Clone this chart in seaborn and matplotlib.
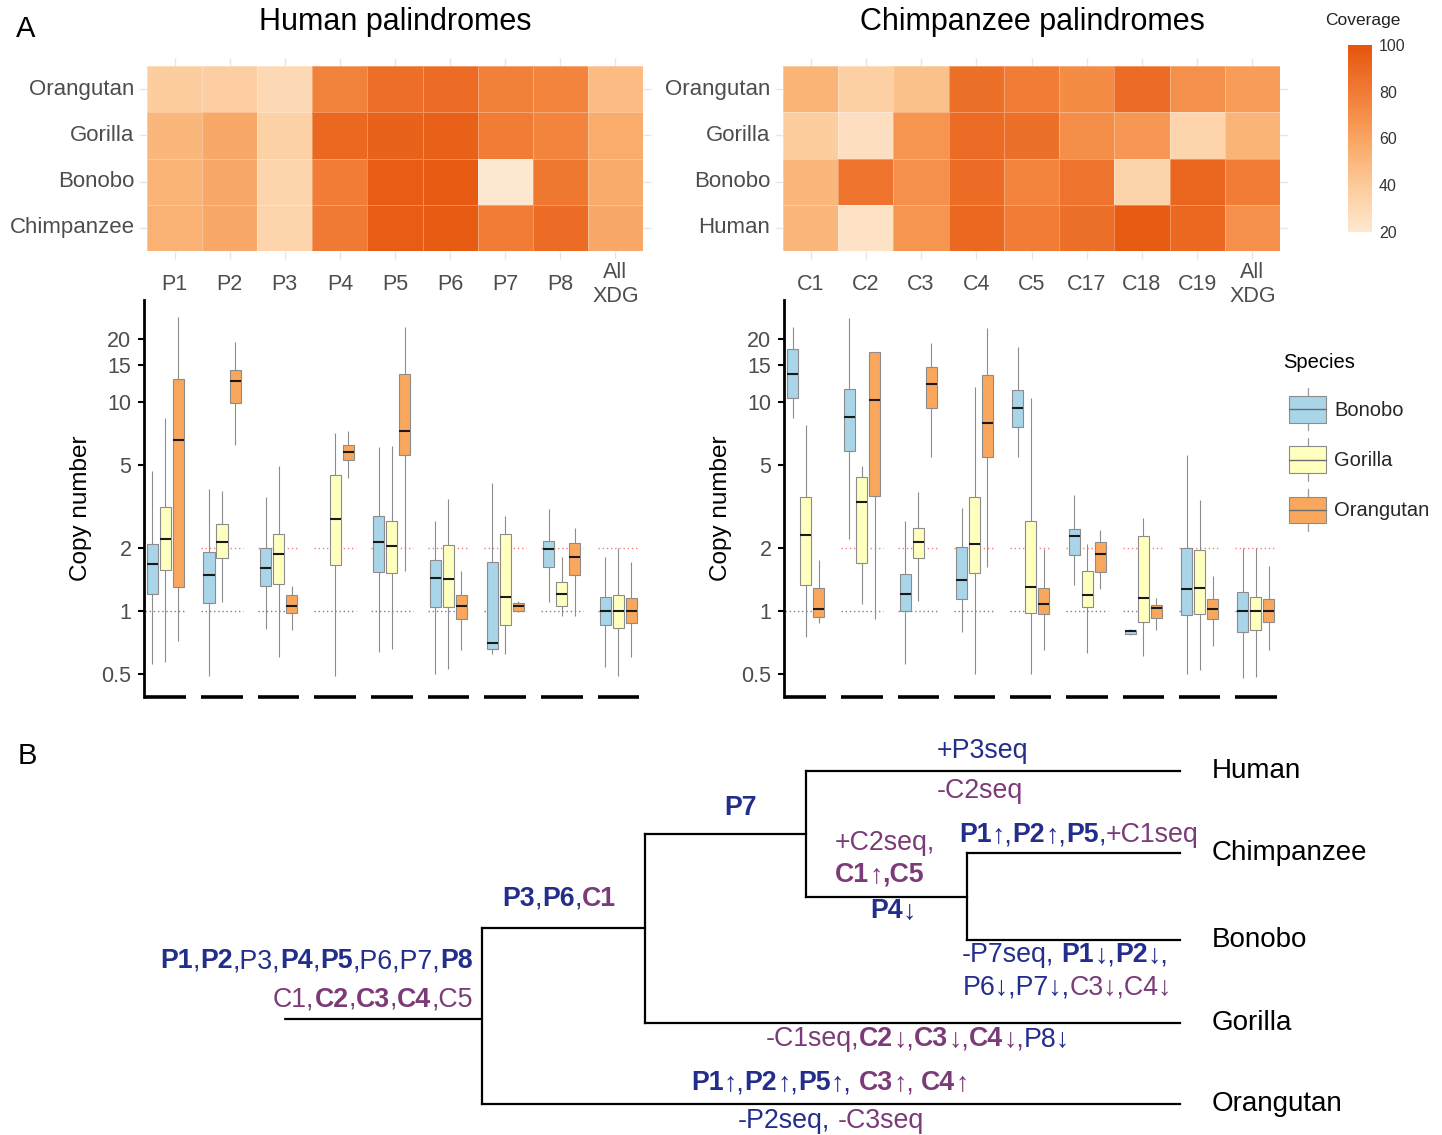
import numpy as np
import pandas as pd
import matplotlib
matplotlib.use("Agg")
import matplotlib.pyplot as plt
import seaborn as sns
from matplotlib.colors import LinearSegmentedColormap
from matplotlib.offsetbox import TextArea, HPacker, AnnotationBbox, DrawingArea
from matplotlib.legend_handler import HandlerBase
from matplotlib.patches import Rectangle, Patch
from matplotlib.lines import Line2D

sns.set_theme(style="white")
FAM = ["Liberation Sans", "DejaVu Sans"]
NARROW = ["Liberation Sans Narrow", "Liberation Sans", "DejaVu Sans"]
plt.rcParams["font.family"] = FAM

# ---------------- data ----------------
human_pal = ["P1", "P2", "P3", "P4", "P5", "P6", "P7", "P8", "All\nXDG"]
chimp_pal = ["C1", "C2", "C3", "C4", "C5", "C17", "C18", "C19", "All\nXDG"]
human_hm_rows = ["Orangutan", "Gorilla", "Bonobo", "Chimpanzee"]
chimp_hm_rows = ["Orangutan", "Gorilla", "Bonobo", "Human"]

# coverage (%) of human palindromes
hcov_orangutan = [38, 37, 30, 77, 87, 88, 78, 76, 48]
hcov_gorilla = [50, 58, 35, 90, 93, 94, 80, 76, 56]
hcov_bonobo = [52, 58, 33, 80, 96, 97, 20, 82, 57]
hcov_chimpanzee = [53, 58, 33, 81, 96, 97, 80, 88, 58]
# coverage (%) of chimpanzee palindromes
ccov_orangutan = [52, 36, 45, 86, 80, 72, 88, 70, 64]
ccov_gorilla = [38, 26, 68, 88, 86, 71, 66, 33, 52]
ccov_bonobo = [50, 84, 70, 88, 76, 84, 34, 91, 80]
ccov_human = [50, 24, 68, 90, 80, 86, 97, 90, 70]

box_species = ["Bonobo", "Gorilla", "Orangutan"]
box_colors = ["#A8D5E7", "#FFFFBE", "#F9A75C"]

# five-number summaries: [low whisker, Q1, median, Q3, high whisker]
human_box_bonobo = [
    [0.56, 1.21, 1.67, 2.10, 4.68], [0.49, 1.09, 1.48, 1.91, 3.82],
    [0.82, 1.31, 1.61, 1.99, 3.52], None,
    [0.64, 1.54, 2.14, 2.85, 6.05], [0.50, 1.04, 1.44, 1.75, 2.70],
    [0.62, 0.66, 0.70, 1.72, 4.07], [1.10, 1.63, 1.98, 2.17, 3.08],
    [0.54, 0.86, 1.00, 1.16, 1.82]]
human_box_gorilla = [
    [0.57, 1.57, 2.20, 3.15, 8.40], [1.10, 1.80, 2.14, 2.60, 3.73],
    [0.60, 1.34, 1.87, 2.33, 4.95], [0.49, 1.65, 2.76, 4.48, 7.06],
    [0.66, 1.51, 2.04, 2.68, 6.17], [0.53, 1.04, 1.42, 2.07, 3.44],
    [0.62, 0.86, 1.17, 2.32, 2.84], [0.95, 1.06, 1.20, 1.38, 1.82],
    [0.49, 0.83, 1.00, 1.19, 2.00]]
human_box_orangutan = [
    [0.72, 1.30, 6.59, 12.8, 25.3], [6.20, 9.80, 12.5, 14.1, 19.2],
    [0.81, 0.98, 1.06, 1.19, 1.32], [4.30, 5.28, 5.73, 6.19, 7.27],
    [1.55, 5.56, 7.27, 13.6, 22.8], [0.65, 0.92, 1.06, 1.19, 1.56],
    [0.99, 1.00, 1.06, 1.09, 1.12], [0.95, 1.49, 1.81, 2.12, 2.48],
    [0.60, 0.88, 1.00, 1.15, 1.71]]
chimp_box_bonobo = [
    [8.40, 10.4, 13.5, 17.8, 22.8], [2.20, 5.81, 8.45, 11.5, 25.0],
    [0.56, 1.00, 1.20, 1.50, 2.70], [0.79, 1.14, 1.41, 2.02, 3.10],
    [5.42, 7.60, 9.37, 11.4, 18.2], [1.33, 1.85, 2.27, 2.46, 3.60],
    [0.77, 0.78, 0.80, 0.81, 0.82], [0.50, 0.96, 1.28, 1.99, 5.56],
    [0.48, 0.79, 1.00, 1.23, 2.00]]
chimp_box_gorilla = [
    [0.75, 1.33, 2.31, 3.49, 7.74], [1.08, 1.69, 3.31, 4.38, 4.93],
    [1.11, 1.80, 2.14, 2.49, 3.72], [0.50, 1.51, 2.08, 3.49, 11.8],
    [0.50, 0.98, 1.30, 2.68, 10.4], [0.63, 1.05, 1.19, 1.55, 2.10],
    [0.61, 0.89, 1.15, 2.27, 2.77], [0.52, 0.97, 1.29, 1.95, 3.39],
    [0.485, 0.81, 1.00, 1.17, 2.00]]
chimp_box_orangutan = [
    [0.88, 0.94, 1.02, 1.29, 1.75], [0.92, 3.56, 10.2, 17.2, 17.2],
    [5.42, 9.30, 12.1, 14.6, 19.0], [1.62, 5.46, 7.94, 13.4, 22.4],
    [0.65, 0.97, 1.08, 1.29, 1.98], [1.27, 1.54, 1.88, 2.14, 2.44],
    [0.81, 0.93, 1.03, 1.07, 1.15], [0.68, 0.92, 1.02, 1.14, 1.47],
    [0.65, 0.89, 1.00, 1.14, 1.64]]

ref_levels = [1, 2]
y_ticks = [0.5, 1, 2, 5, 10, 15, 20]
cov_ticks = [20, 30, 40, 50, 60, 70, 80, 90, 100]

tree_leaves = ["Human", "Chimpanzee", "Bonobo", "Gorilla", "Orangutan"]

# ---------------- figure ----------------
W, H = 1442, 1135
fig = plt.figure(figsize=(W / 100, H / 100), dpi=100)
fig.patch.set_facecolor("white")


def ax_px(x0, y0, x1, y1):
    return fig.add_axes([x0 / W, 1 - y1 / H, (x1 - x0) / W, (y1 - y0) / H])


cmap = LinearSegmentedColormap.from_list(
    "cov", [(0.0, "#FEE7D1"), (0.25, "#FCCA98"), (0.5, "#F9A561"),
            (0.75, "#F07C35"), (1.0, "#E6550D")])
TICKC = "#4D4D4D"

# boxplot axes first (transparent), so heatmap labels stay on top
axb1 = ax_px(144, 300, 640, 697)
axb2 = ax_px(784, 300, 1277, 697)

# heatmaps
axh1 = ax_px(147, 66, 643, 251)
axh2 = ax_px(783, 66, 1280, 251)
cax = ax_px(1348, 45, 1372, 232)

hdf = pd.DataFrame([hcov_orangutan, hcov_gorilla, hcov_bonobo, hcov_chimpanzee],
                   index=human_hm_rows, columns=human_pal)
cdf = pd.DataFrame([ccov_orangutan, ccov_gorilla, ccov_bonobo, ccov_human],
                   index=chimp_hm_rows, columns=chimp_pal)
sns.heatmap(hdf, ax=axh1, cmap=cmap, vmin=20, vmax=100, cbar_ax=cax,
            linewidths=0.6, linecolor=(1, 1, 1, 0.3))
sns.heatmap(cdf, ax=axh2, cmap=cmap, vmin=20, vmax=100, cbar=False,
            linewidths=0.6, linecolor=(1, 1, 1, 0.3))

for ax, cols, rows in [(axh1, human_pal, human_hm_rows), (axh2, chimp_pal, chimp_hm_rows)]:
    ax.set_xlabel("")
    ax.set_ylabel("")
    ax.set_xticklabels(cols, rotation=0, fontsize=15.5, color=TICKC)
    ax.set_yticklabels(rows, rotation=0, fontsize=16, color=TICKC)
    ax.tick_params(axis="both", which="major", length=6, width=1, color="#E6E6E6",
                   bottom=True, top=True, left=True, right=True,
                   labeltop=False, labelright=False)
    ax.tick_params(axis="x", pad=18)
    ax.tick_params(axis="y", pad=3)
    for t in ax.get_xticklabels():
        t.set_va("center")
        t.set_ha("center")
        t.set_multialignment("center")
        t.set_linespacing(1.22)

cbar = axh1.collections[0].colorbar
cbar.outline.set_visible(False)
cbar.set_ticks(cov_ticks)
cbar.set_ticklabels([str(v) if v % 20 == 0 else "" for v in cov_ticks])
cax.tick_params(axis="y", which="major", direction="in", length=4, width=1,
                color="white", left=True, right=True, labelsize=11.5,
                labelcolor="#333333", pad=5)
for t in cax.get_yticklabels():
    t.set_family(NARROW)
fig.text(1325 / W, 1 - 21 / H, "Coverage", fontsize=12.5, family=NARROW,
         color="#222222", ha="left", va="center")

fig.text(395 / W, 1 - 22 / H, "Human palindromes", fontsize=22, ha="center", va="center", color="black")
fig.text(1032 / W, 1 - 22 / H, "Chimpanzee palindromes", fontsize=22, ha="center", va="center", color="black")
fig.text(26 / W, 1 - 29 / H, "A", fontsize=21, ha="center", va="center", color="black")
fig.text(27 / W, 1 - 756 / H, "B", fontsize=21, ha="center", va="center", color="black")


# boxplots
def long_df(pals, boxes):
    rows = []
    for sp, summaries in zip(box_species, boxes):
        for pal, s in zip(pals, summaries):
            if s is None:
                continue
            for v in s:
                rows.append((pal, sp, v))
    return pd.DataFrame(rows, columns=["pal", "species", "copy"])


def draw_box(ax, df, order, xlim, label_x):
    sns.boxplot(data=df, x="pal", y="copy", hue="species", order=order,
                hue_order=box_species, palette=dict(zip(box_species, box_colors)),
                saturation=1, width=0.69, gap=0.15, whis=(0, 100),
                linecolor="#8C8C8C", linewidth=0.8, log_scale=True,
                medianprops=dict(color="#1A1A1A", linewidth=1.5),
                capprops=dict(visible=False),
                legend=False, ax=ax, zorder=3)
    n = len(order)
    half = 0.3675
    ax.set_xlim(*xlim)
    ax.set_ylim(0.388, 30.6)
    pos = np.arange(n)
    ax.hlines([ref_levels[0]] * n, pos - half, pos + half, colors="#808080",
              linestyles=(0, (1, 2)), linewidth=1.0, zorder=1)
    ax.hlines([ref_levels[1]] * (n - 1), pos[1:] - half, pos[1:] + half, colors="#F08080",
              linestyles=(0, (1, 2)), linewidth=1.0, zorder=1)
    ax.hlines([0.388] * n, pos - half, pos + half, colors="black", linewidth=2.6,
              clip_on=False, zorder=5)
    ax.set_yticks(y_ticks)
    ax.set_yticklabels([f"{v:g}" for v in y_ticks])
    ax.yaxis.set_minor_locator(matplotlib.ticker.NullLocator())
    ax.set_xticks([])
    ax.set_xlabel("")
    ax.set_ylabel("Copy number", fontsize=17.5, color="black")
    ax.yaxis.set_label_coords(label_x, 0.475)
    for s in ["top", "right", "bottom"]:
        ax.spines[s].set_visible(False)
    ax.spines["left"].set_color("black")
    ax.spines["left"].set_linewidth(2.0)
    ax.tick_params(axis="y", which="major", left=True, length=4, width=1.5,
                   color="black", labelsize=15.5, labelcolor=TICKC, pad=5)
    ax.set_facecolor((1, 1, 1, 0))


draw_box(axb1, long_df(human_pal, [human_box_bonobo, human_box_gorilla, human_box_orangutan]),
         human_pal, (-0.378, 8.383), -(144 - 92) / 496)
draw_box(axb2, long_df(chimp_pal, [chimp_box_bonobo, chimp_box_gorilla, chimp_box_orangutan]),
         chimp_pal, (-0.385, 8.375), -(784 - 732) / 493)


class BoxHandler(HandlerBase):
    def create_artists(self, legend, orig, xd, yd, width, height, fontsize, trans):
        x0, y0 = -xd, -yd
        cx = x0 + width / 2
        wl = height * 0.3
        return [
            Line2D([cx, cx], [y0 + height, y0 + height + wl], color="#999999", lw=0.9, transform=trans),
            Line2D([cx, cx], [y0 - wl, y0], color="#999999", lw=0.9, transform=trans),
            Rectangle((x0, y0), width, height, facecolor=orig.get_facecolor(),
                      edgecolor="#8C8C8C", lw=0.8, transform=trans),
            Line2D([x0, x0 + width], [y0 + height / 2] * 2, color="#6E6E6E", lw=1.0, transform=trans),
        ]


fig.text(1283 / W, 1 - 362 / H, "Species", fontsize=14.5, color="black", ha="left", va="center")
handles = [Patch(facecolor=c, edgecolor="#8C8C8C") for c in box_colors]
fig.legend(handles, box_species, handler_map={Patch: BoxHandler()},
           loc="upper left", bbox_to_anchor=(1289 / W, 1 - 396 / H),
           frameon=False, fontsize=14.5,
           handlelength=1.85, handleheight=1.65, labelspacing=1.18,
           handletextpad=0.4, borderpad=0, borderaxespad=0)

# ---------------- tree (panel B) ----------------
axt = ax_px(0, 730, W, H)
axt.set_xlim(0, W)
axt.set_ylim(H, 730)
axt.axis("off")

leaf_y = dict(zip(tree_leaves, [771, 853, 940, 1023, 1104]))
leaf_x = 1180
# internal nodes: (x, child_a, child_b)
nodes = {}
nodes["CB"] = (967, "Chimpanzee", "Bonobo")
nodes["HCB"] = (806, "Human", "CB")
nodes["HCBG"] = (645, "HCB", "Gorilla")
nodes["root"] = (482, "HCBG", "Orangutan")
node_y = {}


def get_y(name):
    if name in leaf_y:
        return leaf_y[name]
    if name not in node_y:
        _, a, b = nodes[name]
        node_y[name] = (get_y(a) + get_y(b)) / 2
    return node_y[name]


def get_x(name):
    return leaf_x if name in leaf_y else nodes[name][0]


LW = 1.6
for name, (x, a, b) in nodes.items():
    ya, yb = get_y(a), get_y(b)
    axt.plot([x, x], [ya, yb], color="black", lw=LW, solid_capstyle="projecting")
    for c in (a, b):
        axt.plot([x, get_x(c)], [get_y(c)] * 2, color="black", lw=LW, solid_capstyle="projecting")
axt.plot([285, get_x("root")], [get_y("root") + 3] * 2, color="black", lw=LW)

for lf in tree_leaves:
    axt.text(1212, leaf_y[lf], lf, fontsize=20, color="black", ha="left", va="center")

BL = "#232E8C"
PU = "#7B3B78"
TS = 19.3
SP = ("__sp__", None, None)


def rich(x, y, parts, ha="left"):
    kids = []
    for t, c, w in parts:
        if t == "__sp__":
            kids.append(DrawingArea(0.278 * TS, 1))
        else:
            kids.append(TextArea(t, textprops=dict(color=c, fontweight=w, fontsize=TS, family=FAM)))
    pack = HPacker(children=kids, align="baseline", pad=0, sep=0)
    bx = {"left": 0, "center": 0.5, "right": 1}[ha]
    ab = AnnotationBbox(pack, (x, y), xycoords="data", box_alignment=(bx, 0.5),
                        frameon=False, pad=0, annotation_clip=False)
    axt.add_artist(ab)


b, n = "bold", "normal"
rich(473, 961, [("P1", BL, b), (",", BL, n), ("P2", BL, b), (",P3,", BL, n), ("P4", BL, b),
                (",", BL, n), ("P5", BL, b), (",P6,P7,", BL, n), ("P8", BL, b)], ha="right")
rich(473, 1000, [("C1,", PU, n), ("C2", PU, b), (",", PU, n), ("C3", PU, b), (",", PU, n),
                 ("C4", PU, b), (",C5", PU, n)], ha="right")
rich(559, 899, [("P3", BL, b), (",", BL, n), ("P6", BL, b), (",", BL, n), ("C1", PU, b)], ha="center")
rich(741, 808, [("P7", BL, b)], ha="center")
rich(982, 751, [("+P3seq", BL, n)], ha="center")
rich(980, 791, [("-C2seq", PU, n)], ha="center")
rich(835, 843, [("+C2seq,", PU, n)])
rich(835, 875, [("C1", PU, b), ("↑", PU, n), (",C5", PU, b)])
rich(893, 911, [("P4", BL, b), ("↓", BL, n)], ha="center")
rich(959, 835, [("P1", BL, b), ("↑,", BL, n), ("P2", BL, b), ("↑,", BL, n), ("P5", BL, b),
                (",", BL, n), ("+C1seq", PU, n)])
rich(962, 955, [("-P7seq,", BL, n), SP, ("P1", BL, b), ("↓,", BL, n), ("P2", BL, b), ("↓,", BL, n)])
rich(963, 988, [("P6↓,P7↓,", BL, n), ("C3↓,C4↓", PU, n)])
rich(918, 1039, [("-C1seq,", PU, n), ("C2", PU, b), ("↓,", PU, n), ("C3", PU, b), ("↓,", PU, n),
                 ("C4", PU, b), ("↓,", PU, n), ("P8↓", BL, n)], ha="center")
rich(830, 1083, [("P1", BL, b), ("↑,", BL, n), ("P2", BL, b), ("↑,", BL, n), ("P5", BL, b),
                 ("↑,", BL, n), SP, ("C3", PU, b), ("↑,", PU, n), SP, ("C4", PU, b), ("↑", PU, n)],
     ha="center")
rich(831, 1121, [("-P2seq,", BL, n), SP, ("-C3seq", PU, n)], ha="center")

fig.savefig("out.png", dpi=100, facecolor="white")
